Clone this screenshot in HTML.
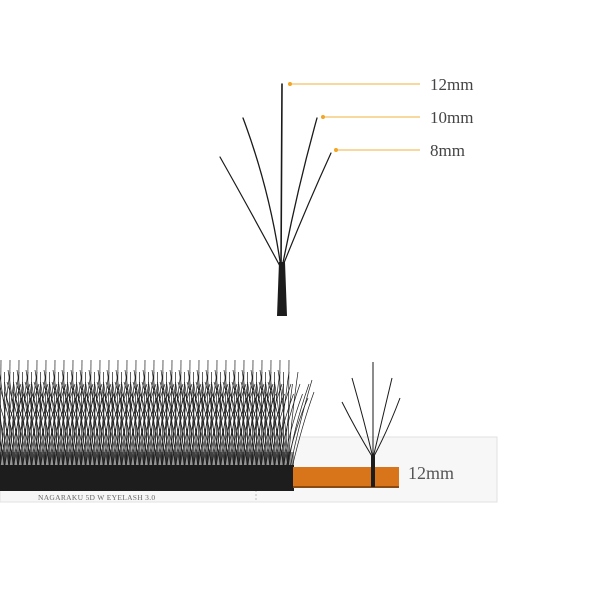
<!DOCTYPE html>
<html><head><meta charset="utf-8"><style>
html,body{margin:0;padding:0;background:#fff;width:600px;height:600px;overflow:hidden}
svg{display:block}
</style></head><body>
<svg width="600" height="600" viewBox="0 0 600 600" xmlns="http://www.w3.org/2000/svg">
<defs>
<g id="b1" stroke="#1e1e1e" fill="none" stroke-width="0.7">
<path d="M0 468 Q-4 430 -20 382"/><path d="M0 468 Q-2 420 -10 370"/><path d="M0 468 L1 360"/><path d="M0 468 Q3 420 10 372"/><path d="M0 468 Q5 430 21 384"/>
</g>
<g id="b2" stroke="#1e1e1e" fill="none" stroke-width="0.7">
<path d="M0 468 Q-4 432 -18 392"/><path d="M0 468 Q-2 425 -9 382"/><path d="M0 468 L0 372"/><path d="M0 468 Q3 425 9 384"/><path d="M0 468 Q5 432 19 394"/>
</g>
<g id="p" stroke="#1e1e1e" fill="none" stroke-width="0.7"><use href="#b1"/><use href="#b2" x="4.5"/></g>
</defs>
<rect width="600" height="600" fill="#fff"/>
<!-- top fan -->
<g stroke="#1a1a1a" fill="none" stroke-linecap="round">
<path d="M281 268 L282 84" stroke-width="1.6"/>
<path d="M281 268 Q270 190 243 118" stroke-width="1.3"/>
<path d="M281 268 Q250 210 220 157" stroke-width="1.2"/>
<path d="M282 268 Q297 190 317 118" stroke-width="1.3"/>
<path d="M282 268 Q305 210 331 153" stroke-width="1.2"/>
</g>
<path d="M279 262 L285 262 L287 316 L277 316 Z" fill="#1c1c1c"/>
<g stroke="#f2b23a" stroke-width="1">
<line x1="290" y1="84" x2="420" y2="84"/>
<line x1="323" y1="117" x2="420" y2="117"/>
<line x1="336" y1="150" x2="420" y2="150"/>
</g>
<g fill="#f2a623"><circle cx="290" cy="84" r="2"/><circle cx="323" cy="117" r="2"/><circle cx="336" cy="150" r="2"/></g>
<g font-family="Liberation Serif, serif" font-size="17" fill="#444">
<text x="430" y="90">12mm</text>
<text x="430" y="123">10mm</text>
<text x="430" y="156">8mm</text>
</g>
<!-- card -->
<rect x="0" y="437" width="497" height="65" fill="#f7f7f7" stroke="#e2e2e2" stroke-width="1"/>
<line x1="256" y1="490" x2="256" y2="502" stroke="#bbb" stroke-dasharray="2,2"/>
<text x="38" y="500" font-family="Liberation Serif, serif" font-size="7.5" fill="#666" letter-spacing="0.3">NAGARAKU 5D W EYELASH 3.0</text>
<!-- strip lashes -->
<g>
<use href="#p" x="0"/><use href="#p" x="9"/><use href="#p" x="18"/><use href="#p" x="27"/><use href="#p" x="36"/><use href="#p" x="45"/><use href="#p" x="54"/><use href="#p" x="63"/><use href="#p" x="72"/><use href="#p" x="81"/><use href="#p" x="90"/><use href="#p" x="99"/><use href="#p" x="108"/><use href="#p" x="117"/><use href="#p" x="126"/><use href="#p" x="135"/><use href="#p" x="144"/><use href="#p" x="153"/><use href="#p" x="162"/><use href="#p" x="171"/><use href="#p" x="180"/><use href="#p" x="189"/><use href="#p" x="198"/><use href="#p" x="207"/><use href="#p" x="216"/><use href="#p" x="225"/><use href="#p" x="234"/><use href="#p" x="243"/><use href="#p" x="252"/><use href="#p" x="261"/><use href="#p" x="270"/><use href="#p" x="279"/><use href="#b1" x="288"/>
</g>
<g stroke="#1e1e1e" fill="none" stroke-width="0.7">
<path d="M290 468 Q300 420 312 380"/><path d="M292 468 Q302 425 314 392"/><path d="M286 468 Q296 425 308 398"/>
</g>
<rect x="0" y="465" width="294" height="26" fill="#1d1d1d"/>
<rect x="0" y="452" width="294" height="14" fill="#1d1d1d" opacity="0.45"/>
<rect x="293" y="467" width="106" height="21" fill="#d8741a"/>
<rect x="293" y="486" width="106" height="2" fill="#8a4a10"/>
<text x="408" y="479" font-family="Liberation Serif, serif" font-size="18" fill="#555">12mm</text>
<!-- small fan -->
<g stroke="#1a1a1a" fill="none" stroke-width="1">
<path d="M373 458 L373 362"/>
<path d="M373 458 Q364 420 352 378"/>
<path d="M373 458 Q356 430 342 402"/>
<path d="M373 458 Q382 420 392 378"/>
<path d="M373 458 Q388 430 400 398"/>
</g>
<rect x="371" y="455" width="4" height="32" fill="#1c1c1c"/>
</svg>
</body></html>
